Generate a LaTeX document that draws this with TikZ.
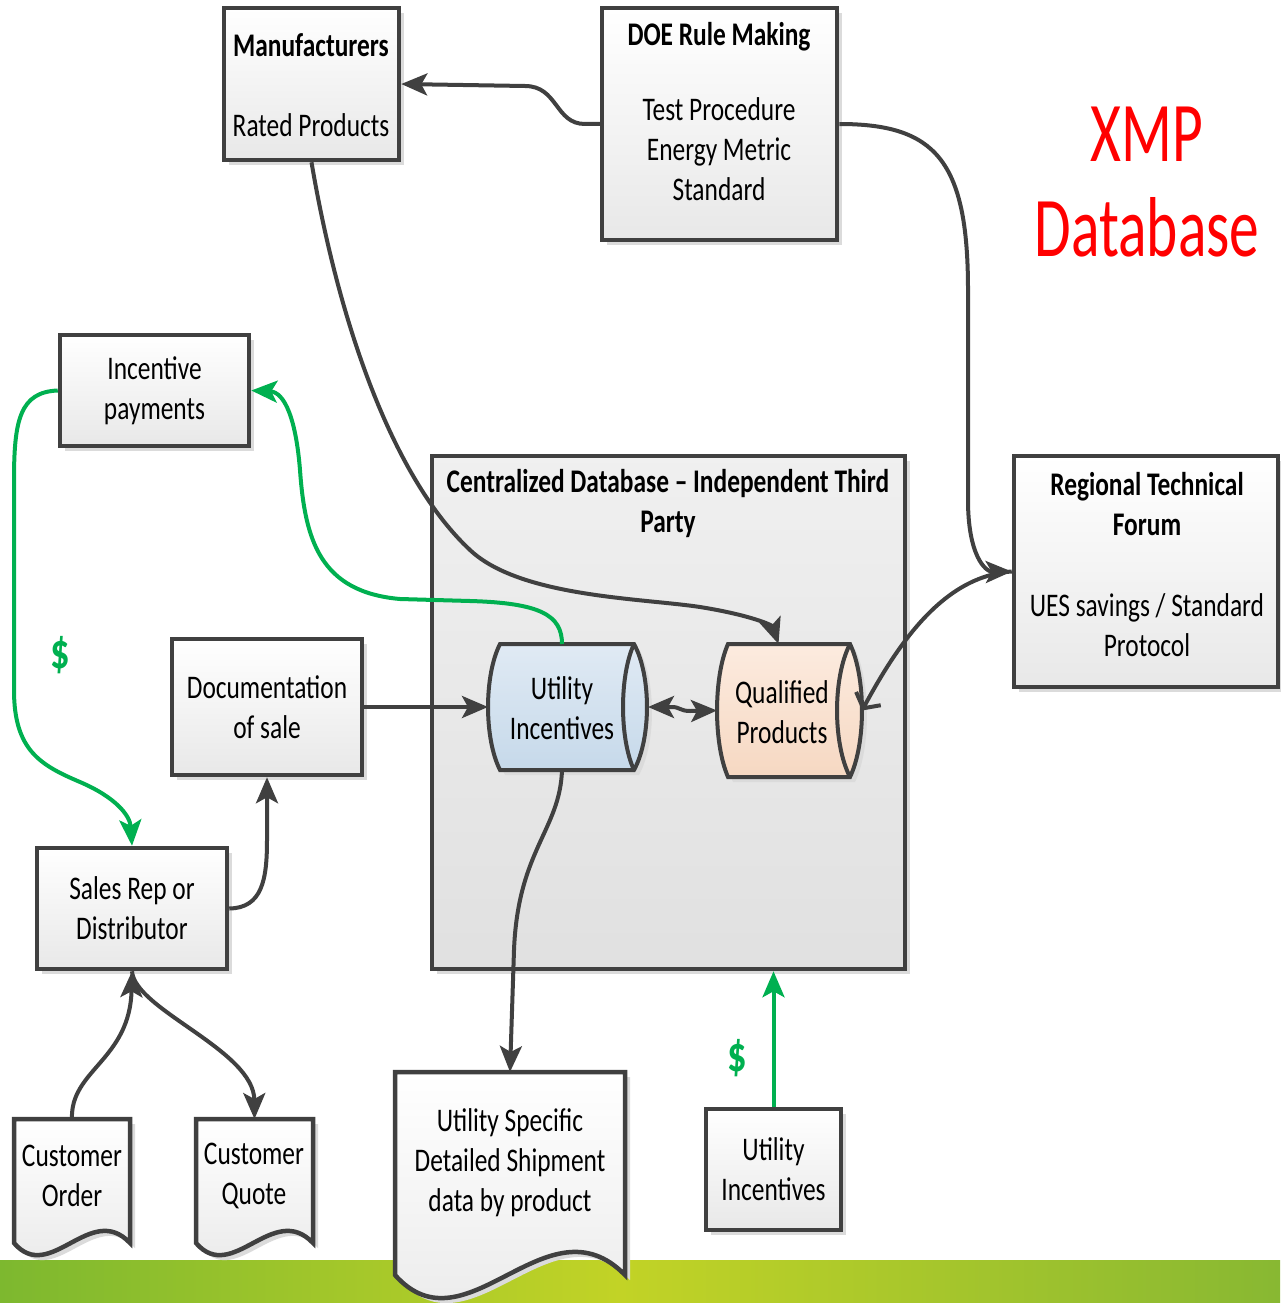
\documentclass[tikz,border=0pt]{standalone}
\usepackage{fontspec}
\setmainfont{Carlito}[FakeStretch=0.77]
\newfontfamily\titlefont{Carlito}[FakeStretch=0.70]
\usetikzlibrary{arrows.meta,shadows}

\definecolor{edgegray}{HTML}{404040}
\definecolor{dgreen}{HTML}{00B050}
\definecolor{xred}{HTML}{FF0000}
\definecolor{barG}{HTML}{7DB82F}
\definecolor{barY}{HTML}{C2D326}
\definecolor{barG2}{HTML}{88B832}
\definecolor{blueT}{HTML}{E0EAF4}
\definecolor{blueB}{HTML}{C6D9EA}
\definecolor{peachT}{HTML}{FCEBDF}
\definecolor{peachB}{HTML}{F6D8C2}

% document shape with a wavy lower edge: x0, x1, top, bottom, wave amplitude
\newcommand\wavedoc[5]{%
  \pgfmathsetmacro\wdA{#1+0.66*(#2-#1)}%
  \pgfmathsetmacro\wdB{#1+0.31*(#2-#1)}%
  \path[docst] (#1,#3) -- (#2,#3) -- (#2,#4)
    .. controls (\wdA,{#4-#5}) and (\wdB,{#4+#5}) .. (#1,#4) -- cycle;}

% cylinder lying on its side: x0, x1, top, bottom, left bulge, right bulge, inner bulge, colours
\newcommand\sidecyl[8]{%
  \pgfmathsetmacro\cyq{0.25*(#4-#3)}%
  \path[cylst,#8] (#1,#3) -- (#2,#3)
    .. controls ({#2+1.33*#6},{#3+\cyq}) and ({#2+1.33*#6},{#4-\cyq}) .. (#2,#4)
    -- (#1,#4)
    .. controls ({#1-1.33*#5},{#4-\cyq}) and ({#1-1.33*#5},{#3+\cyq}) .. (#1,#3) -- cycle;
  \draw[draw=edgegray, line width=4pt] (#2,#3)
    .. controls ({#2-1.33*#7},{#3+\cyq}) and ({#2-1.33*#7},{#4-\cyq}) .. (#2,#4);}

\begin{document}
\begin{tikzpicture}[x=1pt, y=-1pt,
  shadowst/.style={drop shadow={shadow xshift=5pt, shadow yshift=-5pt, fill=black!14, opacity=1}},
  box/.style={draw=edgegray, line width=4.5pt, top color=white, bottom color=black!9,
    shadowst, inner sep=0pt},
  contbox/.style={draw=edgegray, line width=4.5pt, top color=black!6, bottom color=black!12,
    shadowst, inner sep=0pt},
  docst/.style={draw=edgegray, line width=4.5pt, top color=white, bottom color=black!9, shadowst},
  cylst/.style={draw=edgegray, line width=4pt, shadowst},
  anchorbox/.style={inner sep=0pt, outer sep=0pt, draw=none},
  txt/.style={font=\fontsize{33}{40}\selectfont, align=center, inner sep=0pt},
  txtb/.style={font=\fontsize{33}{40}\selectfont\bfseries, align=center, inner sep=0pt},
  dollar/.style={font=\fontsize{50}{56}\selectfont\bfseries, text=dgreen, inner sep=0pt},
  conn/.style={draw=edgegray, line width=4pt},
  gconn/.style={draw=dgreen, line width=4pt},
  tip/.style={-{Stealth[length=26pt,width=22pt,inset=6pt]}},
  tipboth/.style={{Stealth[length=26pt,width=22pt,inset=6pt]}-{Stealth[length=26pt,width=22pt,inset=6pt]}},
  barb/.style={-{Straight Barb[length=11pt,width=28pt]}}
]
\useasboundingbox (0,0) rectangle (1280,1303);

% green band along the bottom
\fill[left color=barG, right color=barY] (0,1260) rectangle (620,1303);
\fill[left color=barY, right color=barG2] (620,1260) rectangle (1280,1303);

% central database container
\node[contbox, minimum width=473pt, minimum height=513pt] (cdb) at (668.5,712.5) {};
\node[txtb] (cdbT) at (668,504) {Centralized Database – Independent Third\\Party};

% rectangular boxes
\node[box, minimum width=175pt, minimum height=152pt] (man) at (311.5,84) {};
\node[txtb] (manT) at (311,45) {Manufacturers};
\node[txt] (manR) at (311,125) {Rated Products};

\node[box, minimum width=235pt, minimum height=232pt] (doe) at (719.5,124) {};
\node[txtb] (doeT) at (719,37) {DOE Rule Making};
\node[txt] (doeR) at (719,149) {Test Procedure\\Energy Metric\\Standard};

\node[font=\titlefont\fontsize{85}{95}\selectfont, text=xred, align=center, inner sep=0pt] (xmp) at (1147,182) {XMP\\Database};

\node[box, txt, minimum width=189pt, minimum height=111pt] (inc) at (154.5,390.5) {Incentive\\payments};

\node[box, minimum width=264pt, minimum height=231pt] (rtf) at (1146,571.5) {};
\node[txtb] (rtfT) at (1147,504) {Regional Technical\\Forum};
\node[txt] (rtfU) at (1147,625) {UES savings / Standard\\Protocol};

\node[box, txt, minimum width=190pt, minimum height=136pt] (sale) at (267,707) {Documentation\\of sale};
\node[box, txt, minimum width=190pt, minimum height=121pt] (rep) at (132,908.5) {Sales Rep or\\Distributor};
\node[box, txt, minimum width=135pt, minimum height=121pt] (uib) at (773.5,1169.5) {Utility\\Incentives};

% database cylinders
\sidecyl{500}{634}{644}{770}{12}{13}{11}{top color=blueT, bottom color=blueB}
\node[anchorbox, minimum width=160pt, minimum height=126pt] (ui) at (568,707) {};
\node[txt] (uiT) at (562,708) {Utility\\Incentives};

\sidecyl{728}{850}{644}{777}{11}{12}{13}{top color=peachT, bottom color=peachB}
\node[anchorbox, minimum width=145pt, minimum height=133pt] (qp) at (789.5,710.5) {};
\node[txt] (qpT) at (782,712) {Qualified\\Products};

% documents
\wavedoc{14}{130}{1119}{1243}{42}
\node[anchorbox, minimum width=116pt, minimum height=124pt] (co) at (72,1181) {};
\node[txt] (coT) at (72,1176) {Customer\\Order};

\wavedoc{196}{313}{1119}{1243}{42}
\node[anchorbox, minimum width=117pt, minimum height=124pt] (cq) at (254.5,1181) {};
\node[txt] (cqT) at (254,1176) {Customer\\Quote};

\wavedoc{395}{625}{1072}{1275}{80}
\node[anchorbox, minimum width=230pt, minimum height=203pt] (sh) at (510,1173.5) {};
\node[txt] (shT) at (510,1163) {Utility Specific\\Detailed Shipment\\data by product};

% money labels
\node[dollar] (d1) at (60,655) {\$};
\node[dollar] (d2) at (737,1058) {\$};

% connectors
\draw[conn, tip] (doe.west) -- (585,124) .. controls (555,124) and (558,86) .. (525,86) -- (man.east);
\draw[conn, tip] (doe.east) .. controls (935,124) and (968,160) .. (968,290) -- (968,500)
  .. controls (968,555) and (985,572) .. (rtf.west);
\draw[conn, barb] (rtf.west) .. controls (945,576) and (900,640) .. (qp.east);
\draw[conn, tip] (man.south) .. controls (340,330) and (395,480) .. (470,550)
  .. controls (520,597) and (640,598) .. (700,607)
  .. controls (750,615) and (772,625) .. ([xshift=-11pt]qp.north);
\draw[gconn, tip] (uiT |- ui.north) .. controls (562,615) and (540,603) .. (470,601) -- (400,599)
  .. controls (320,592) and (305,540) .. (300,470)
  .. controls (296,420) and (285,392) .. (inc.east);
\draw[gconn, tip] (inc.west) .. controls (20,392) and (14,420) .. (14,480) -- (14,690)
  .. controls (14,750) and (40,765) .. (80,782)
  .. controls (115,797) and (130,815) .. (rep.north);
\draw[conn, tip] (sale.east) -- (ui.west);
\draw[conn, tipboth] (ui.east) -- (672,707) .. controls (680,707) and (680,711) .. (690,711) -- (qp.west);
\draw[conn, tip] (uiT |- ui.south) .. controls (560,830) and (518,850) .. (514,950) -- (sh.north);
\draw[gconn, tip] (uib.north) -- (uib.north |- cdb.south);
\draw[conn, tip] (rep.east) .. controls (262,908) and (267,880) .. (267,840) -- (sale.south);
\draw[conn, tip] (co.north) .. controls (70,1070) and (130,1060) .. (rep.south);
\draw[conn, tip] (rep.south) .. controls (135,1010) and (254,1050) .. (cq.north);
\end{tikzpicture}
\end{document}
